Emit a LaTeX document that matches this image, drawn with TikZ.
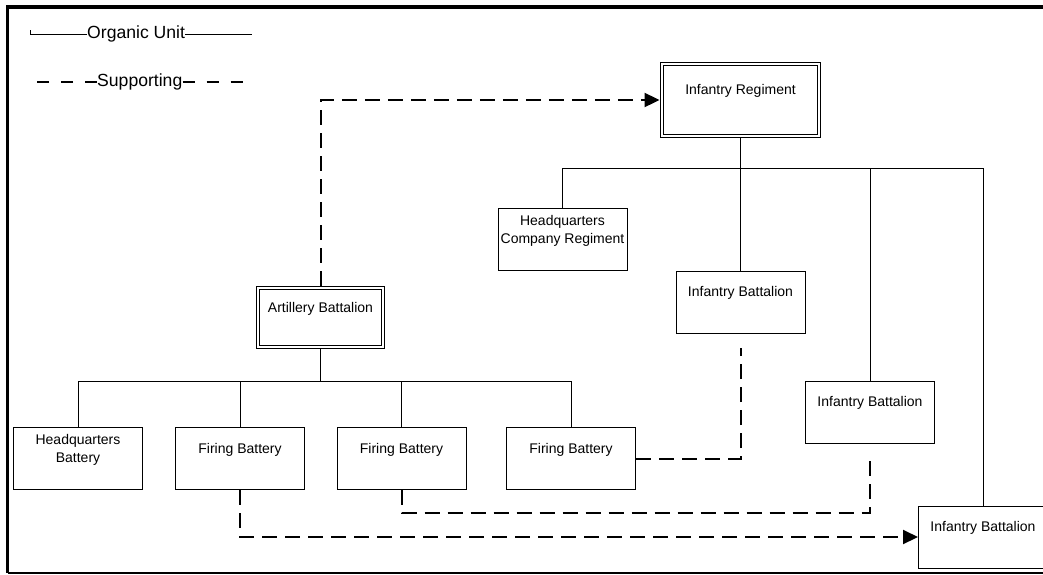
\documentclass[tikz,border=0pt]{standalone}
\usepackage{fontspec}
\setmainfont{Liberation Sans}
\usetikzlibrary{calc,arrows.meta}

\tikzset{
  unit/.style={draw, line width=1pt, minimum width=129pt, minimum height=62pt, inner sep=0pt},
  hq/.style={draw, double, double distance=2.2pt, line width=0.9pt, inner sep=0pt},
  boxtext/.style={yshift=9pt, align=center, inner sep=0pt, font=\fontsize{14}{18}\selectfont},
  organic/.style={line width=1pt},
  support/.style={line width=2pt, dash pattern=on 15pt off 8pt},
  key/.style={inner sep=0pt, font=\fontsize{17.6}{20}\selectfont},
  tip/.style={-{Triangle[length=15pt,width=14pt]}}
}

\begin{document}
\begin{tikzpicture}[x=1pt,y=-1pt]
\useasboundingbox (0,0) rectangle (1043,574);
\draw[line width=3.5pt] (1043,7) -- (7.5,7) -- (7.5,573); %frame top and left
\draw[line width=1.5pt] (7.5,573) -- (1043,573); %frame bottom

%legend
\node[key, anchor=west] (org) at (87,34) {Organic Unit};
\node[key, anchor=west] (sup) at (97,82) {Supporting};
\coordinate (orgL) at (30,34);
\coordinate (orgR) at (252,34);
\coordinate (supL) at (30,82);
\coordinate (supR) at (252,82);
\draw[organic] ($(orgL)+(0,-4)$) -- (orgL) -- (orgL -| org.west);
\draw[organic] (org.east) -- (org.east -| orgR);
\draw[support, dash pattern=on 12pt off 12pt] (supL -| sup.west) -- (supL); %dash from the text outwards
\draw[support, dash pattern=on 12pt off 12pt] (sup.east) -- (sup.east -| supR);

%regiment side
\node[hq, minimum width=157pt, minimum height=72pt, label={[boxtext]center:Infantry Regiment}] (ir) at (740.5,100) {};
\node[unit, label={[boxtext]center:{Headquarters\\Company Regiment}}] (hqc) at (562.5,239.5) {};
\node[unit, label={[boxtext]center:Infantry Battalion}] (ib1) at (740.5,302) {};
\node[unit, label={[boxtext]center:Infantry Battalion}] (ib2) at (870,412) {};
\node[unit, label={[boxtext]center:Infantry Battalion}] (ib3) at (983,537) {}; %runs past the frame

%artillery side
\node[hq, minimum width=125pt, minimum height=59pt, label={[boxtext]center:Artillery Battalion}] (art) at (320.5,317.5) {};
\node[unit, label={[boxtext]center:{Headquarters\\Battery}}] (hqb) at (78,458.5) {};
\node[unit, label={[boxtext]center:Firing Battery}] (fb1) at (240,458.5) {};
\node[unit, label={[boxtext]center:Firing Battery}] (fb2) at (401.5,458.5) {};
\node[unit, label={[boxtext]center:Firing Battery}] (fb3) at (571,458.5) {};

%organic lines
\coordinate (irbus) at (740.5,168);
\draw[organic, shorten <=2pt] (ir.south) -- (ib1.north);
\draw[organic] (hqc.north) |- (ib3.north |- irbus) -- (ib3.north); %bus
\draw[organic] (ib2.north) -- (ib2.north |- irbus);

\coordinate (artbus) at (320.5,381);
\draw[organic, shorten <=2pt] (art.south) -- (artbus);
\draw[organic] (hqb.north) |- (fb3.north |- artbus) -- (fb3.north); %bus
\draw[organic] (fb1.north) -- (fb1.north |- artbus);
\draw[organic] (fb2.north) -- (fb2.north |- artbus);

%supporting lines
\coordinate (ib1gap) at ($(ib1.south)+(0,14)$);
\coordinate (ib2gap) at ($(ib2.south)+(0,12)$);
\draw[support, tip, shorten <=2pt, shorten >=2pt] (art.north) |- (ir.west);
\draw[support] (fb3.east) -| (ib1gap);
\draw[support] (fb2.south) -- ++(0,23) -| (ib2gap);
\draw[support, tip] (fb1.south) |- (ib3.west);
\end{tikzpicture}
\end{document}
